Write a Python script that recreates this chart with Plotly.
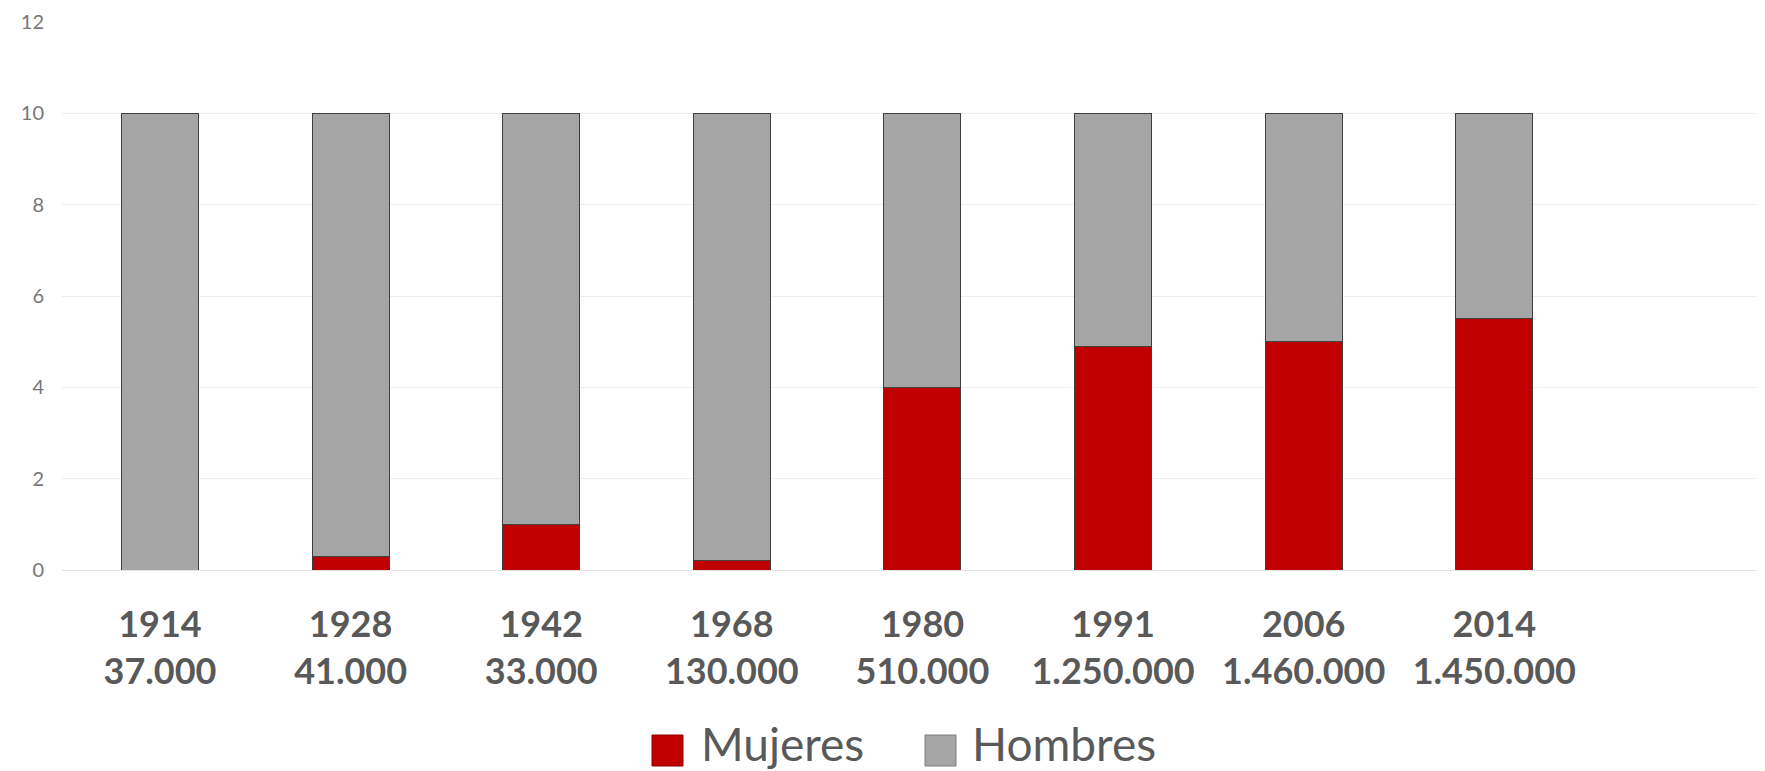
import plotly.graph_objects as go

years = ["1914", "1928", "1942", "1968", "1980", "1991", "2006", "2014"]
totals = ["37.000", "41.000", "33.000", "130.000", "510.000", "1.250.000", "1.460.000", "1.450.000"]
mujeres = [0.0, 0.3, 1.0, 0.2, 4.0, 4.9, 5.0, 5.5]
hombres = [10.0, 9.7, 9.0, 9.8, 6.0, 5.1, 5.0, 4.5]
series_names = ["Mujeres", "Hombres"]
y_ticks = [0, 2, 4, 6, 8, 10, 12]

RED = "#C00000"
GRAY = "#A5A5A5"
TEXT = "#595959"

OFF = 8  # default page body margin
PAGE_W, PAGE_H = 1765, 771
W, H = PAGE_W - OFF, PAGE_H - OFF
# plot area in page pixels
P_LEFT, P_RIGHT, P_TOP, P_BOTTOM = 62, 1765, 22, 570
ML = P_LEFT - OFF
MR = PAGE_W - P_RIGHT
MT = P_TOP - OFF
MB = PAGE_H - P_BOTTOM
PW = P_RIGHT - P_LEFT
PH = P_BOTTOM - P_TOP


def px_x(p):
    return (p - P_LEFT) / PW


def px_y(p):
    return (P_BOTTOM - p) / PH


fig = go.Figure()
fig.add_trace(go.Bar(x=years, y=mujeres, name=series_names[0],
                     marker=dict(color=RED, line=dict(color="#404040", width=1)),
                     showlegend=False))
fig.add_trace(go.Bar(x=years, y=hombres, name=series_names[1],
                     marker=dict(color=GRAY, line=dict(color="#404040", width=1)),
                     showlegend=False))

ticktext = [f"{y}<br>{t}" for y, t in zip(years, totals)]

fig.update_layout(
    width=W, height=H,
    margin=dict(l=ML, r=MR, t=MT, b=MB, pad=0),
    paper_bgcolor="white", plot_bgcolor="white",
    barmode="stack", bargap=0.596,
    showlegend=False,
    font=dict(family="Lato, Open Sans, sans-serif", color=TEXT),
    xaxis=dict(
        type="category", range=[-0.514, 8.42],
        tickmode="array", tickvals=years, ticktext=ticktext,
        tickfont=dict(family="Lato", size=36, color=TEXT, weight="bold"),
        showgrid=False, showline=False, ticks="", ticklabelstandoff=30,
        zeroline=False,
    ),
    yaxis=dict(
        range=[0, 12], tickvals=y_ticks,
        tickfont=dict(family="Lato", size=20, color="#777777"),
        showgrid=True, gridcolor="#EDEDED", gridwidth=1,
        zeroline=True, zerolinecolor="#E3E3E3", zerolinewidth=1,
        showline=False, ticks="", ticklabelstandoff=17,
    ),
)

# custom legend (large squares as in the reference)
legend_items = [
    (series_names[0], RED, 652, 699),
    (series_names[1], GRAY, 925, 970),
]
for name, col, sq_x, tx_x in legend_items:
    fig.add_shape(type="rect", xref="paper", yref="paper",
                  x0=px_x(sq_x), x1=px_x(sq_x + 31), y0=px_y(766), y1=px_y(735),
                  fillcolor=col, line=dict(color="#7f7f7f" if col == GRAY else "#8a0000", width=1))
    fig.add_annotation(x=px_x(tx_x), y=px_y(744), xref="paper", yref="paper",
                       text=name, showarrow=False, xanchor="left", yanchor="middle",
                       font=dict(family="Lato", size=46, color=TEXT))

fig.write_html("out.html")
